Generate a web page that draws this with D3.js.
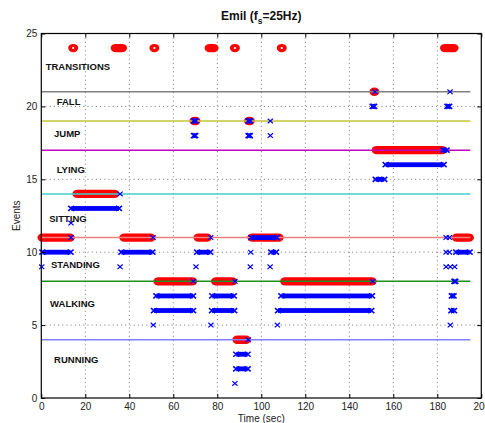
<!DOCTYPE html>
<html>
<head>
<meta charset="utf-8">
<script src="https://cdn.jsdelivr.net/npm/d3@7/dist/d3.min.js"></script>
<style>
  html, body { margin: 0; padding: 0; background: #fff; }
  svg { display: block; font-family: "Liberation Sans", Arial, Helvetica, sans-serif; }
</style>
</head>
<body>
<svg id="chart" width="485" height="423"></svg>
<script>
// ---- axes ----
const xTicks = [0, 20, 40, 60, 80, 100, 120, 140, 160, 180, 200];
const yTicks = [0, 5, 10, 15, 20, 25];

// ---- activity classes: name, ground-truth row ----
const classNames  = ["RUNNING", "WALKING", "STANDING", "SITTING", "LYING", "JUMP", "FALL", "TRANSITIONS"];
const classLevels = [4, 8, 11, 14, 17, 19, 21, 24];

// separator line per class row (transitions row has none)
const separatorLevels = [4, 8, 11, 14, 17, 19, 21];
const separatorColors = ["#8080ff", "#1f8f1f", "#f08080", "#3fcfcf", "#c000c0", "#c4c43a", "#808080"];
const separatorEnd = 195;

// ---- ground truth segments [start, end] in seconds ----
const truthRunning     = [[89.1, 93.0]];
const truthWalking     = [[53.2, 68.6], [79.4, 86.8], [110.8, 150.2]];
const truthStanding    = [[0.5, 13.0], [37.7, 49.7], [71.4, 75.3], [95.9, 107.9], [188.8, 194.4]];
const truthSitting     = [[16.4, 33.2]];
const truthLying       = [[152.4, 182.2]];
const truthJump        = [[69.6, 70.1], [94.4, 94.8]];
const truthFall        = [[151.4, 151.4]];
const truthTransitions = [[14.5, 14.5], [33.8, 36.7], [51.4, 51.4], [76.5, 78.3], [88.0, 88.0], [109.3, 109.3], [183.5, 187.4]];

// ---- detector outputs: [row, [[start, end], ...]] ----
const detRunning = [
  [4, [[94.1, 94.1]]],
  [3, [[88.6, 93.8]]],
  [2, [[88.6, 93.8]]],
  [1, [[88.0, 88.0]]]
];
const detWalking = [
  [8, [[69.1, 69.1], [88.0, 88.0], [150.6, 150.6], [187.8, 188.2]]],
  [7, [[52.3, 69.0], [77.7, 87.5], [109.1, 150.3], [186.6, 187.4]]],
  [6, [[51.2, 69.0], [77.6, 87.7], [107.6, 150.0], [186.4, 187.6]]],
  [5, [[50.9, 50.9], [77.1, 77.1], [107.3, 107.3], [185.9, 185.9]]]
];
const detStanding = [
  [11, [[13.5, 13.5], [50.8, 50.8], [77.0, 77.0], [95.5, 107.0], [184.0, 184.0], [185.5, 185.5]]],
  [10, [[0.5, 13.3], [36.4, 50.5], [70.8, 76.8], [95.2, 95.2], [104.5, 106.7], [184.0, 184.0], [185.5, 185.5], [188.6, 194.7]]],
  [9,  [[0.2, 0.2], [35.8, 35.8], [70.3, 70.3], [95.0, 95.0], [104.0, 104.0], [184.0, 184.0], [185.9, 185.9], [187.9, 187.9]]]
];
const detSitting = [
  [14, [[35.8, 35.8]]],
  [13, [[13.6, 35.3]]],
  [12, [[13.5, 13.5]]]
];
const detLying = [
  [17, [[182.8, 184.2]]],
  [16, [[156.5, 182.9]]],
  [15, [[152.0, 155.9]]]
];
const detJump = [
  [19, [[69.4, 70.1], [94.2, 94.9], [104.1, 104.1]]],
  [18, [[69.4, 70.0], [94.2, 94.8], [104.1, 104.1]]]
];
const detFall = [
  [21, [[151.7, 151.7], [185.8, 185.8]]],
  [20, [[150.6, 151.3], [184.6, 185.4]]]
];

// text anchors for the class names, in axis units
const labelX = [5.8, 4.0, 4.4, 3.6, 7.0, 5.8, 7.0, 2.0];
const labelY = [2.37, 6.21, 8.93, 12.08, 15.45, 17.9, 20.07, 22.47];

// ---------------------------------------------------------------
const svg = d3.select("#chart");
const x = d3.scaleLinear().domain([0, 200]).range([41.3, 481.3]);
const y = d3.scaleLinear().domain([0, 25]).range([398, 33.5]);
const [x0, x1] = x.range();
const [y0, y1] = y.range();

// dotted grid
const grid = svg.append("g").attr("stroke", "#777").attr("stroke-width", 1)
  .attr("stroke-dasharray", "1,3.2");
grid.selectAll("line.gx").data(xTicks.slice(1, -1)).join("line")
  .attr("x1", d => x(d)).attr("x2", d => x(d)).attr("y1", y1).attr("y2", y0);
grid.selectAll("line.gy").data(yTicks.slice(1, -1)).join("line")
  .attr("y1", d => y(d)).attr("y2", d => y(d)).attr("x1", x0).attr("x2", x1);

// ground truth segments
const truthSets = [truthRunning, truthWalking, truthStanding, truthSitting,
                   truthLying, truthJump, truthFall, truthTransitions];
const RX = 5, RY = 4.2;
function capsule(s, e, lv) {
  const a = x(s), b = x(e), c = y(lv);
  if (s === e) {
    // single sample: open circle marker
    const ir = 1.2, iy = 1.0;
    return `M${a - RX},${c} a${RX},${RY} 0 1,0 ${2 * RX},0 a${RX},${RY} 0 1,0 ${-2 * RX},0 Z` +
           `M${a - ir},${c} a${ir},${iy} 0 1,0 ${2 * ir},0 a${ir},${iy} 0 1,0 ${-2 * ir},0 Z`;
  }
  return `M${a},${c - RY} L${b},${c - RY} A${RX},${RY} 0 0 1 ${b},${c + RY} ` +
         `L${a},${c + RY} A${RX},${RY} 0 0 1 ${a},${c - RY} Z`;
}
const truthRows = truthSets.flatMap((set, i) => set.map(seg => ({ seg, lv: classLevels[i] })));
svg.append("g").selectAll("path").data(truthRows).join("path")
  .attr("d", d => capsule(d.seg[0], d.seg[1], d.lv))
  .attr("fill", "#ff0000").attr("fill-rule", "evenodd");

// separator lines
svg.append("g").selectAll("line").data(separatorLevels).join("line")
  .attr("x1", x(0)).attr("x2", x(separatorEnd))
  .attr("y1", d => y(d)).attr("y2", d => y(d))
  .attr("stroke", (d, i) => separatorColors[i]).attr("stroke-width", 1.5);

// detector outputs
const detSets = [detRunning, detWalking, detStanding, detSitting, detLying, detJump, detFall];
const detRows = detSets.flatMap(set => set.flatMap(([lv, segs]) => segs.map(seg => ({ seg, lv }))));
const blue = "#0000ff";
const dg = svg.append("g");
function cross(g, cx, cy, hw, hh, sw) {
  g.append("path")
    .attr("d", `M${cx - hw},${cy - hh} L${cx + hw},${cy + hh} M${cx - hw},${cy + hh} L${cx + hw},${cy - hh}`)
    .attr("stroke", blue).attr("stroke-width", sw).attr("fill", "none");
}
detRows.forEach(d => {
  const a = x(d.seg[0]), b = x(d.seg[1]), c = y(d.lv);
  if (d.seg[0] === d.seg[1]) {
    cross(dg, a, c, 2.6, 2.3, 1.2);
  } else {
    dg.append("rect").attr("x", a).attr("y", c - 2.4).attr("width", b - a).attr("height", 4.8)
      .attr("fill", blue);
    cross(dg, a, c, 3, 2.5, 1.6);
    cross(dg, b, c, 3, 2.5, 1.6);
  }
});

// class names
svg.append("g").selectAll("text").data(classNames).join("text")
  .attr("x", (d, i) => x(labelX[i])).attr("y", (d, i) => y(labelY[i]))
  .attr("font-size", "9.5px").attr("font-weight", "bold").attr("fill", "#111")
  .text(d => d);

// axes with inward ticks
const axisFont = g => g.selectAll("text").attr("font-size", "10px").attr("fill", "#222")
  .attr("font-family", "Liberation Sans, Arial, sans-serif");
svg.append("g").attr("transform", `translate(0,${y0})`)
  .call(d3.axisBottom(x).tickValues(xTicks).tickSize(-4).tickPadding(5))
  .call(g => g.select(".domain").remove()).call(axisFont);
svg.append("g").attr("transform", `translate(0,${y1})`)
  .call(d3.axisTop(x).tickValues(xTicks).tickSize(-4).tickFormat(""))
  .call(g => g.select(".domain").remove());
svg.append("g").attr("transform", `translate(${x0},0)`)
  .call(d3.axisLeft(y).tickValues(yTicks).tickSize(-4).tickPadding(4))
  .call(g => g.select(".domain").remove()).call(axisFont);
svg.append("g").attr("transform", `translate(${x1},0)`)
  .call(d3.axisRight(y).tickValues(yTicks).tickSize(-4).tickFormat(""))
  .call(g => g.select(".domain").remove());
svg.selectAll(".tick line").attr("stroke", "#000");

// box
svg.append("rect").attr("x", x0).attr("y", y1).attr("width", x1 - x0).attr("height", y0 - y1)
  .attr("fill", "none").attr("stroke", "#000").attr("stroke-width", 1.2);

// title and axis titles
const title = svg.append("text").attr("x", (x0 + x1) / 2).attr("y", 20)
  .attr("text-anchor", "middle").attr("font-size", "12px").attr("font-weight", "bold").attr("fill", "#111");
title.append("tspan").text("Emil (f");
title.append("tspan").attr("font-size", "8.5px").attr("dy", 4).text("s");
title.append("tspan").attr("dy", -4).text("=25Hz)");

svg.append("text").attr("x", (x0 + x1) / 2).attr("y", 421.5).attr("text-anchor", "middle")
  .attr("font-size", "10px").attr("fill", "#222").text("Time (sec)");
svg.append("text").attr("transform", `translate(20,${(y0 + y1) / 2}) rotate(-90)`)
  .attr("text-anchor", "middle").attr("font-size", "10px").attr("fill", "#222").text("Events");
</script>
</body>
</html>
